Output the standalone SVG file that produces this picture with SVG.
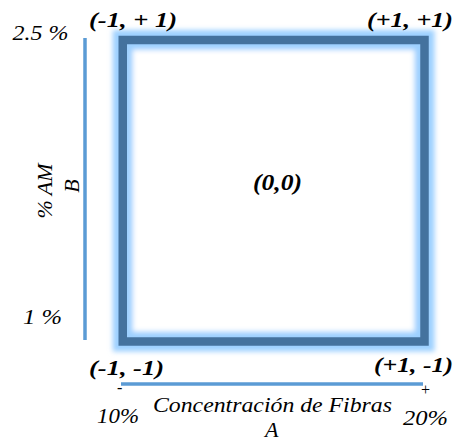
<svg xmlns="http://www.w3.org/2000/svg" width="457" height="442" viewBox="0 0 457 442">
<defs>
<style>
.axis{stroke:#5b9bd5;stroke-width:3.5;fill:none}
</style>
<filter id="glow" x="-10%" y="-10%" width="120%" height="120%">
<feGaussianBlur stdDeviation="2.5"/>
</filter>
</defs>
<g id="square">
<rect x="122.75" y="40" width="301.75" height="301.5" fill="#ffffff" stroke="#9dd0ff" stroke-width="20" filter="url(#glow)"/>
<rect x="122.75" y="40" width="301.75" height="301.5" fill="none" stroke="#44729e" stroke-width="8.5"/>
</g>
<g id="connectors">
<line class="axis" x1="85" y1="38" x2="85" y2="340"/>
<line class="axis" x1="121" y1="384" x2="423" y2="384"/>
</g>
<g id="labels" font-family="Liberation Serif, Times New Roman, serif" font-style="italic" fill="#000">
<text x="12.5" y="40" font-size="22" textLength="56" lengthAdjust="spacingAndGlyphs">2.5 %</text>
<text x="23" y="324" font-size="22" textLength="39" lengthAdjust="spacingAndGlyphs">1 %</text>
<text transform="translate(52,191) rotate(-90)" text-anchor="middle" font-size="22">% AM</text>
<text transform="translate(79,186) rotate(-90)" text-anchor="middle" font-size="22">B</text>
<text font-weight="bold" x="89" y="27" font-size="22" textLength="88" lengthAdjust="spacingAndGlyphs">(-1, + 1)</text>
<text font-weight="bold" x="367" y="27" font-size="22" textLength="86" lengthAdjust="spacingAndGlyphs">(+1, +1)</text>
<text font-weight="bold" x="253" y="190" font-size="24" textLength="49" lengthAdjust="spacingAndGlyphs">(0,0)</text>
<text font-weight="bold" x="89" y="375" font-size="22" textLength="75" lengthAdjust="spacingAndGlyphs">(-1, -1)</text>
<text font-weight="bold" x="374" y="372" font-size="22" textLength="79" lengthAdjust="spacingAndGlyphs">(+1, -1)</text>
<text x="117" y="393" font-size="16">-</text>
<text x="420" y="395" font-size="16">+</text>
<text x="97" y="423" font-size="22" textLength="42" lengthAdjust="spacingAndGlyphs">10%</text>
<text x="153" y="412" font-size="22" textLength="239" lengthAdjust="spacingAndGlyphs">Concentración de Fibras</text>
<text x="265" y="437" font-size="22">A</text>
<text x="403" y="425" font-size="22" textLength="45" lengthAdjust="spacingAndGlyphs">20%</text>
</g>
</svg>
